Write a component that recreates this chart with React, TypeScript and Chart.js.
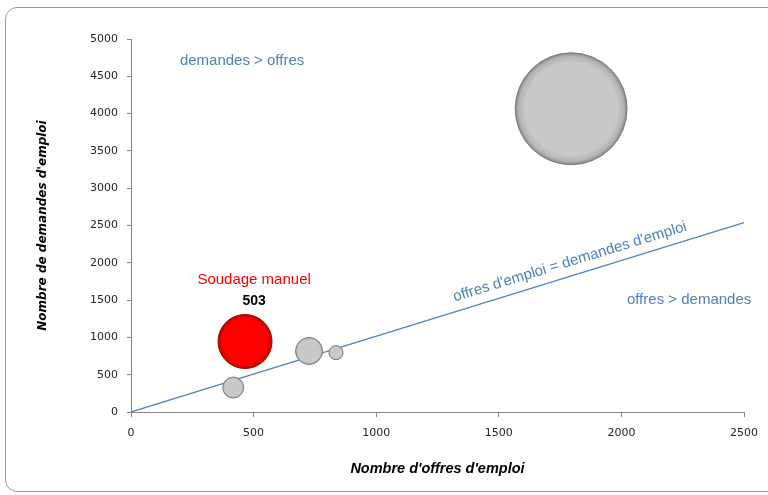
import React, { useEffect, useRef } from "react";
import { Chart, registerables } from "chart.js";

Chart.register(...registerables);

// ---- data ----
const offres = [1795, 465, 417, 726, 836];
const demandes = [4065, 945, 328, 818, 795];
const tailles = [2160, 503, 76, 126, 34];
const isHighlight = [false, true, false, false, false];
const equalityX = [0, 2500];
const equalityY = [0, 2540];
const highlightName = "Soudage manuel";
const highlightValue = "503";

const xTitle = "Nombre d'offres d'emploi";
const yTitle = "Nombre de demandes d'emploi";

const BLUE = "#4f81bd";
const TEXT_FONT = '"Liberation Sans", Arial, sans-serif';
const TICK_FONT = '"DejaVu Sans", Verdana, sans-serif';

// annotations anchored in data coordinates
const notes = [
  { text: "demandes > offres", x: 453, y: 4705, color: BLUE, font: `15px ${TEXT_FONT}`, angle: 0 },
  { text: "offres > demandes", x: 2276, y: 1501, color: BLUE, font: `15px ${TEXT_FONT}`, angle: 0 },
  { text: "offres d'emploi = demandes d'emploi", x: 1790, y: 2011, color: BLUE, font: `15px ${TEXT_FONT}`, angle: -17 },
  { text: highlightName, x: 502, y: 1770, color: "#ff0000", font: `15px ${TEXT_FONT}`, angle: 0 },
  { text: highlightValue, x: 502, y: 1490, color: "#000000", font: `bold 14px ${TEXT_FONT}`, angle: 0 },
];

const radiusFor = (size: number) => 27 * Math.sqrt(size / 503);

function bubbleFill(ctx: any) {
  const i = ctx.dataIndex;
  const hi = isHighlight[i];
  const base = hi ? "#ff0000" : "#c9c9c9";
  const rim = hi ? "#a80000" : "#858585";
  const chart = ctx.chart;
  const xs = chart.scales && chart.scales.x;
  const ys = chart.scales && chart.scales.y;
  const raw = ctx.raw;
  if (!xs || !ys || !raw || !chart.chartArea) return base;
  const cx = xs.getPixelForValue(raw.x);
  const cy = ys.getPixelForValue(raw.y);
  const r = raw.r;
  if (!isFinite(cx) || !isFinite(cy) || !(r > 0)) return base;
  const g = chart.ctx.createRadialGradient(cx, cy, 0, cx, cy, r);
  g.addColorStop(0, base);
  g.addColorStop(0.82, base);
  g.addColorStop(0.94, hi ? "#e00000" : "#b3b3b3");
  g.addColorStop(1, rim);
  return g;
}

const notesPlugin = {
  id: "notes",
  afterDatasetsDraw(chart: any) {
    const { ctx } = chart;
    const xs = chart.scales.x;
    const ys = chart.scales.y;
    ctx.save();
    for (const n of notes) {
      const px = xs.getPixelForValue(n.x);
      const py = ys.getPixelForValue(n.y);
      ctx.save();
      ctx.translate(px, py);
      ctx.rotate((n.angle * Math.PI) / 180);
      ctx.font = n.font;
      ctx.fillStyle = n.color;
      ctx.textAlign = "center";
      ctx.textBaseline = "middle";
      ctx.fillText(n.text, 0, 0);
      ctx.restore();
    }
    ctx.restore();
  },
};

export default function App() {
  const ref = useRef<HTMLCanvasElement | null>(null);

  useEffect(() => {
    if (!ref.current) return;
    const bubbles = offres.map((x, i) => ({ x, y: demandes[i], r: radiusFor(tailles[i]) }));
    const line = equalityX.map((x, i) => ({ x, y: equalityY[i] }));

    const chart = new Chart(ref.current, {
      type: "bubble",
      data: {
        datasets: [
          {
            type: "line",
            label: "offres = demandes",
            data: line,
            borderColor: BLUE,
            borderWidth: 1.2,
            pointRadius: 0,
            fill: false,
            order: 2,
          } as any,
          {
            type: "bubble",
            label: "Métiers",
            data: bubbles,
            backgroundColor: bubbleFill,
            borderColor: (c: any) => (isHighlight[c.dataIndex] ? "#9a0000" : "#7d7d7d"),
            borderWidth: 1,
            clip: false,
            order: 1,
          } as any,
        ],
      },
      options: {
        responsive: false,
        animation: false,
        layout: { autoPadding: false, padding: { top: 39, right: 24, left: 0, bottom: 0 } },
        plugins: {
          legend: { display: false },
          tooltip: { enabled: false },
          title: { display: false },
        },
        scales: {
          x: {
            type: "linear",
            min: 0,
            max: 2500,
            ticks: {
              stepSize: 500,
              padding: 10,
              color: "#262626",
              font: { family: TICK_FONT, size: 11 },
              maxRotation: 0,
              callback: (v: any) => String(v),
            },
            grid: { drawOnChartArea: false, drawTicks: true, tickLength: 5, color: "#868686" },
            border: { display: true, color: "#868686", width: 1 },
            title: {
              display: true,
              text: xTitle,
              color: "#000",
              font: { family: TEXT_FONT, size: 14.5, weight: "bold", style: "italic" },
              padding: { top: 0, bottom: 17 },
            },
            afterFit: (s: any) => {
              s.height = 83;
              s.paddingLeft = 0;
              s.paddingRight = 0;
              s.paddingTop = 0;
              s.paddingBottom = 0;
            },
          },
          y: {
            type: "linear",
            min: 0,
            max: 5000,
            ticks: {
              stepSize: 500,
              padding: 9,
              color: "#262626",
              font: { family: TICK_FONT, size: 11 },
              callback: (v: any) => String(v),
            },
            grid: { drawOnChartArea: false, drawTicks: true, tickLength: 4, color: "#868686" },
            border: { display: true, color: "#868686", width: 1 },
            title: {
              display: true,
              text: yTitle,
              color: "#000",
              font: { family: TICK_FONT, size: 12, weight: "bold", style: "italic" },
              padding: { top: 36, bottom: 0 },
            },
            afterFit: (s: any) => {
              s.width = 131;
              s.paddingLeft = 0;
              s.paddingRight = 0;
              s.paddingTop = 0;
              s.paddingBottom = 0;
            },
          },
        },
      },
      plugins: [notesPlugin],
    });
    return () => chart.destroy();
  }, []);

  return (
    <div
      style={{
        position: "fixed",
        left: 0,
        top: 0,
        width: 768,
        height: 495,
        background: "#ffffff",
        overflow: "hidden",
      }}
    >
      <div
        style={{
          position: "absolute",
          left: 5,
          top: 7,
          width: 780,
          height: 485,
          border: "1px solid #9a9a9a",
          borderRadius: 12,
          boxSizing: "border-box",
        }}
      />
      <canvas ref={ref} width={768} height={495} style={{ position: "absolute", left: 0, top: 0 }} />
    </div>
  );
}
